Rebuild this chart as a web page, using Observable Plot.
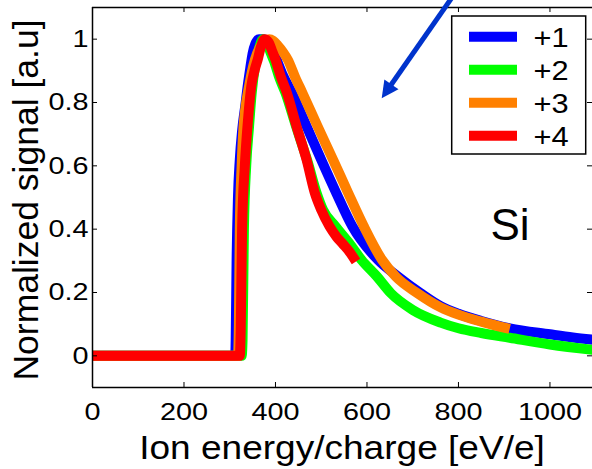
<!DOCTYPE html>
<html><head><meta charset="utf-8">
<script src="https://cdn.jsdelivr.net/npm/d3@7"></script>
<script src="https://cdn.jsdelivr.net/npm/@observablehq/plot@0.6"></script>
<style>html,body{margin:0;padding:0;background:#fff;overflow:hidden;}</style>
</head><body><div id="chart"></div>
<script>
const seriesLabels = ["+1", "+2", "+3", "+4"];
const seriesColors = ["#0000ff", "#00ff00", "#ff8000", "#ff0000"];
const xTicks = [0, 200, 400, 600, 800, 1000];
const yTicks = [0, 0.2, 0.4, 0.6, 0.8, 1];
const xDomain = [0, 1093];
const yDomain = [-0.1, 1.1];
const xLabel = "Ion energy/charge [eV/e]";
const yLabel = "Normalized signal [a.u]";
const elementLabel = "Si";

// [energy/charge, normalized signal]
const plus1 = [[0,0],[312,0],[313,0.05],[315,0.3],[318,0.5],[322,0.62],[327,0.71],[334,0.79],[340,0.86],[345,0.91],[350,0.955],[356,0.985],[364,1.0],[374,1.0],[385,0.985],[398,0.95],[415,0.89],[436,0.83],[468,0.725],[500,0.619],[533,0.514],[568,0.409],[624,0.303],[668,0.25],[717,0.198],[761,0.157],[800,0.133],[850,0.11],[912,0.087],[1000,0.068],[1050,0.058],[1100,0.05]];
const plus2 = [[0,0],[326,0],[328,0.05],[331,0.4],[336,0.6],[342,0.72],[348,0.83],[356,0.92],[364,0.97],[373,1.0],[382,0.985],[390,0.955],[397,0.93],[408,0.88],[422,0.83],[446,0.72],[469,0.619],[490,0.514],[504,0.461],[531,0.409],[561,0.356],[588,0.303],[622,0.25],[652,0.198],[700,0.145],[761,0.105],[800,0.087],[850,0.072],[912,0.057],[1000,0.036],[1100,0.018]];
const plus3 = [[0,0],[318,0],[320,0.1],[322,0.4],[326,0.6],[330,0.72],[334,0.78],[342,0.85],[355,0.935],[366,0.975],[378,0.995],[386,1.0],[395,0.995],[405,0.98],[416,0.96],[427,0.935],[443,0.88],[459,0.83],[492,0.725],[526,0.619],[559,0.514],[593,0.409],[633,0.303],[663,0.25],[710,0.198],[761,0.153],[800,0.13],[850,0.108],[912,0.085]];
const plus4 = [[0,0],[322,0],[324,0.08],[327,0.4],[333,0.6],[338,0.71],[340,0.746],[347,0.85],[354,0.9],[362,0.94],[368,0.975],[376,1.0],[385,0.99],[392,0.965],[400,0.935],[412,0.88],[425,0.83],[447,0.72],[468,0.619],[486,0.514],[500,0.461],[518,0.409],[534,0.375],[548,0.352],[562,0.328],[576,0.298]];

const rows = [];
[plus1, plus2, plus3, plus4].forEach((s, i) => s.forEach(([x, y]) => rows.push({x, y, series: seriesLabels[i]})));

const W = 592, H = 469, mL = 92, mR = 0, mT = 7, mB = 82;
const pw = W - mL - mR, ph = H - mT - mB;
const FONT = "'Liberation Sans', Arial, sans-serif";

const chart = Plot.plot({
  width: W, height: H,
  marginLeft: mL, marginRight: mR, marginTop: mT, marginBottom: mB,
  style: {fontFamily: FONT, background: "#fff", color: "#000", overflow: "visible"},
  x: {domain: xDomain},
  y: {domain: yDomain},
  color: {domain: seriesLabels, range: seriesColors},
  marks: [
    Plot.line(rows, {x: "x", y: "y", z: "series", stroke: "series", strokeWidth: 10, strokeLinecap: "butt", strokeLinejoin: "round", curve: "monotone-x", clip: true}),
    Plot.ruleX([xDomain[0]], {stroke: "#000", strokeWidth: 1.5}),
    Plot.ruleY(yDomain, {stroke: "#000", strokeWidth: 1.5}),
    Plot.tickX(xTicks, {x: d => d, insetTop: ph - 5, stroke: "#000"}),
    Plot.tickX(xTicks, {x: d => d, insetBottom: ph - 5, stroke: "#000"}),
    Plot.tickY(yTicks, {y: d => d, insetRight: pw - 5, stroke: "#000"}),
    Plot.tickY(yTicks, {y: d => d, insetLeft: pw - 5, stroke: "#000"}),
    Plot.axisX({ticks: xTicks, tickSize: 0, tickPadding: 15, fontSize: 24, tickFormat: d => String(d), label: null}),
    Plot.axisY({ticks: yTicks, tickSize: 0, tickPadding: 4, fontSize: 24, tickFormat: d => String(d), label: null})
  ]
});
document.getElementById("chart").append(chart);

const svg = d3.select(chart);
function stretch(node, s) {
  const tr = node.getAttribute("transform") || "";
  const x = +node.getAttribute("x") || 0, y = +node.getAttribute("y") || 0;
  node.setAttribute("transform", `${tr} translate(${x},${y}) scale(${s},1) translate(${-x},${-y})`);
}
svg.selectAll('g[aria-label="x-axis tick label"] text').each(function() { stretch(this, 1.2); });
svg.selectAll('g[aria-label="y-axis tick label"] text').each(function() { stretch(this, 1.2); });

// axis titles
const xl = svg.append("text").attr("x", mL + pw / 2).attr("y", 459).attr("text-anchor", "middle")
  .attr("font-family", FONT).attr("font-size", 34).attr("fill", "#000").text(xLabel);
stretch(xl.node(), 1.09);
svg.append("text").attr("transform", `translate(38,${mT + ph / 2 + 3}) rotate(-90)`).attr("text-anchor", "middle")
  .attr("font-family", FONT).attr("font-size", 35.5).attr("fill", "#000").text(yLabel);

// element label
svg.append("text").attr("x", 490.5).attr("y", 240).attr("text-anchor", "start").attr("font-family", FONT)
  .attr("font-size", 44).attr("fill", "#000").text(elementLabel);

// arrow annotation
const tip = [381.7, 98.3], start = [453, -4];
const dxA = tip[0] - start[0], dyA = tip[1] - start[1], len = Math.hypot(dxA, dyA);
const u = [dxA / len, dyA / len], n = [-u[1], u[0]];
const headL = 17, headW = 8.6;
const base = [tip[0] - headL * u[0], tip[1] - headL * u[1]];
svg.append("line").attr("x1", start[0]).attr("y1", start[1]).attr("x2", base[0] + 2 * u[0]).attr("y2", base[1] + 2 * u[1])
  .attr("stroke", "#0033cc").attr("stroke-width", 5);
svg.append("polygon").attr("points", [tip, [base[0] + headW * n[0], base[1] + headW * n[1]], [base[0] - headW * n[0], base[1] - headW * n[1]]].map(p => p.join(",")).join(" "))
  .attr("fill", "#0033cc");

// legend
const lg = svg.append("g");
lg.append("rect").attr("x", 451.7).attr("y", 16).attr("width", 134).attr("height", 138)
  .attr("fill", "#fff").attr("stroke", "#000").attr("stroke-width", 1.5);
seriesLabels.forEach((lab, i) => {
  const cy = 36.7 + i * 33;
  lg.append("line").attr("x1", 469).attr("x2", 517).attr("y1", cy).attr("y2", cy)
    .attr("stroke", seriesColors[i]).attr("stroke-width", 10);
  const t = lg.append("text").attr("x", 533.5).attr("y", cy + 10.3).attr("text-anchor", "start").attr("font-family", FONT)
    .attr("font-size", 28).attr("fill", "#000").text(lab);
  stretch(t.node(), 1.1);
});
</script>
</body></html>
